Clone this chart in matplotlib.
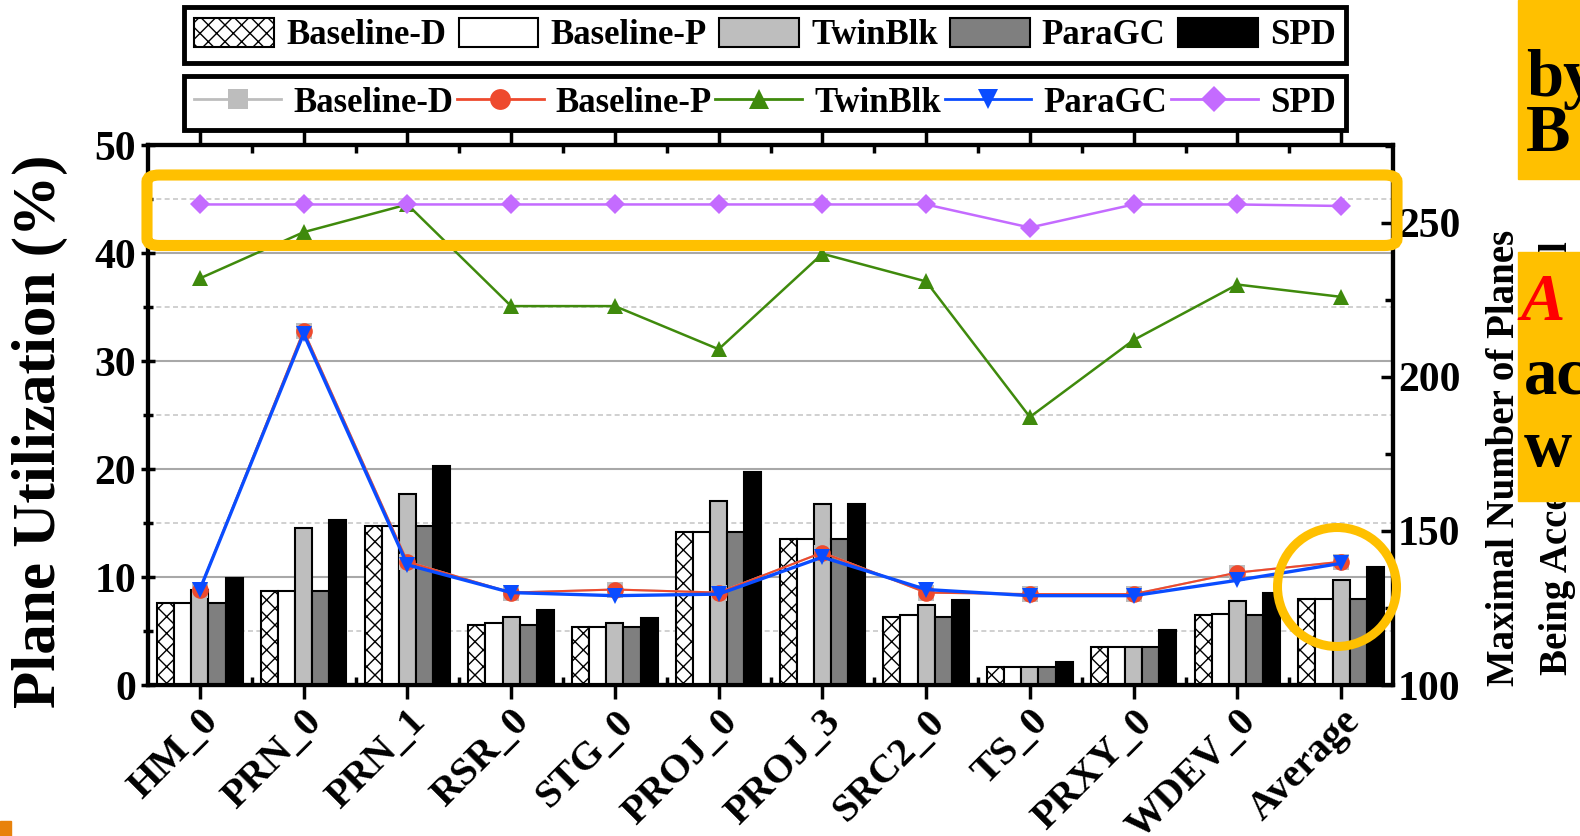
import numpy as np
import matplotlib
matplotlib.use("Agg")
import matplotlib.pyplot as plt
from matplotlib.patches import Patch, FancyBboxPatch, Ellipse, Rectangle
from matplotlib.lines import Line2D
from matplotlib.ticker import MultipleLocator

plt.rcParams['font.family'] = ['Liberation Serif', 'DejaVu Serif']
plt.rcParams['font.weight'] = 'bold'
plt.rcParams['hatch.linewidth'] = 1.0

# workloads
categories = ["HM_0", "PRN_0", "PRN_1", "RSR_0", "STG_0", "PROJ_0",
              "PROJ_3", "SRC2_0", "TS_0", "PRXY_0", "WDEV_0", "Average"]
schemes = ["Baseline-D", "Baseline-P", "TwinBlk", "ParaGC", "SPD"]

# plane utilization (%) - bars, left axis
util_bd = [7.6, 8.7, 14.7, 5.6, 5.4, 14.2, 13.5, 6.3, 1.7, 3.5, 6.5, 8.0]
util_bp = [7.6, 8.7, 14.7, 5.7, 5.4, 14.2, 13.5, 6.5, 1.7, 3.5, 6.6, 8.0]
util_twin = [8.8, 14.5, 17.7, 6.3, 5.7, 17.0, 16.8, 7.4, 1.7, 3.5, 7.8, 9.7]
util_para = [7.6, 8.7, 14.7, 5.6, 5.4, 14.2, 13.5, 6.3, 1.7, 3.5, 6.5, 8.0]
util_spd = [9.9, 15.3, 20.3, 6.9, 6.2, 19.7, 16.8, 7.9, 2.1, 5.1, 8.5, 10.9]

# maximal number of planes accessed in parallel - lines, right axis
par_bd = [131, 215, 140, 130, 131, 130, 143, 130, 129.5, 129.5, 136.5, 140]
par_bp = [131, 215, 140, 130, 131, 130, 143, 130, 129.5, 129.5, 136.5, 140]
par_twin = [232, 247, 256, 223, 223, 209, 240, 231, 187, 212, 230, 226]
par_para = [131, 214, 139, 130, 129, 129.5, 141.5, 131, 129, 129, 134, 139.5]
par_spd = [256, 256, 256, 256, 256, 256, 256, 256, 248.5, 256, 256, 255.5]

bar_face = ["white", "white", "#bebebe", "#7f7f7f", "black"]
bar_hatch = ["xx", None, None, None, None]
line_color = ["#bdbdbd", "#ee4a2e", "#3f8a0c", "#0a4cff", "#c46bff"]
line_marker = ["s", "o", "^", "v", "D"]
yellow = "#ffc000"

W, H = 1580, 836
fig = plt.figure(figsize=(W / 100, H / 100), dpi=100)
ax = fig.add_axes([148 / W, 1 - 685 / H, (1393 - 148) / W, (685 - 145) / H])
ax2 = ax.twinx()

x = np.arange(len(categories))
bw = 0.165
utils = [util_bd, util_bp, util_twin, util_para, util_spd]
for i, vals in enumerate(utils):
    ax.bar(x + (i - 2) * bw, vals, bw, color=bar_face[i], edgecolor="black",
           hatch=bar_hatch[i], linewidth=1.5, zorder=3)

pars = [par_bd, par_bp, par_twin, par_para, par_spd]
lws = [1.5, 1.5, 1.8, 2.4, 1.8]
for i, vals in enumerate(pars):
    ax2.plot(x, vals, color=line_color[i], marker=line_marker[i],
             markersize=12 if line_marker[i] != "D" else 10, lw=lws[i],
             markeredgewidth=0, zorder=3 + i)

ax.set_xlim(-0.5, len(categories) - 0.5)
ax.set_ylim(0, 50)
ax2.set_ylim(100, 275.3)

ax.yaxis.set_major_locator(MultipleLocator(10))
ax.yaxis.set_minor_locator(MultipleLocator(5))
ax2.yaxis.set_major_locator(MultipleLocator(50))
ax2.yaxis.set_minor_locator(MultipleLocator(25))
ax.grid(which="major", axis="y", color="#a8a8a8", lw=1.5, zorder=0)
ax.grid(which="minor", axis="y", color="#c8c8c8", lw=1.2, ls=(0, (3, 2)), zorder=0)

ax.set_xticks(x)
ax.set_xticks(x[:-1] + 0.5, minor=True)
ax.set_xticklabels(categories, rotation=45, ha="right", rotation_mode="anchor",
                   fontsize=29, fontweight="bold")
ax.tick_params(axis="x", which="major", direction="out", length=10, width=2.5,
               top=True, pad=3)
ax.tick_params(axis="x", which="minor", direction="in", length=6, width=2.5,
               top=True, bottom=True)
ax.tick_params(axis="y", which="major", direction="inout", length=10, width=2.5,
               labelsize=30)
ax.tick_params(axis="y", which="minor", direction="inout", length=7, width=2.5)
ax2.tick_params(axis="y", which="major", direction="in", length=9, width=2.5,
                labelsize=30)
ax2.tick_params(axis="y", which="minor", direction="in", length=6, width=2.5)
for t in ax.get_yticklabels() + ax2.get_yticklabels():
    t.set_fontweight("bold")

for sp in ax.spines.values():
    sp.set_linewidth(3)
for sp in ax2.spines.values():
    sp.set_linewidth(3)

ax.set_ylabel("Plane Utilization (%)", fontsize=44, fontweight="bold")
ax.yaxis.set_label_coords(-0.064, 0.47)
ax2.set_ylabel("Maximal Number of Planes\nBeing Accessed in Parallel",
               fontsize=28, fontweight="bold", linespacing=1.55)
ax2.yaxis.set_label_coords(1.075, 0.42)

# legends
bar_handles = [Patch(facecolor=bar_face[i], edgecolor="black", hatch=bar_hatch[i],
                     linewidth=1.5) for i in range(5)]
line_handles = [Line2D([0], [0], color=line_color[i], marker=line_marker[i],
                       markersize=15 if line_marker[i] != "D" else 13, lw=2,
                       markeredgewidth=0) for i in range(5)]
leg_kw = dict(ncol=5, frameon=True, fancybox=False, framealpha=1, mode="expand",
              handletextpad=0.35, columnspacing=0.3, borderpad=0.3,
              borderaxespad=0, prop={"weight": "bold", "size": 25})
leg1 = fig.legend(bar_handles, schemes, loc="center",
                  bbox_to_anchor=(184 / W, 1 - 60 / H, (1346 - 184) / W, 50 / H),
                  handlelength=2.3, handleheight=0.9, **leg_kw)
leg2 = fig.legend(line_handles, schemes, loc="center",
                  bbox_to_anchor=(184 / W, 1 - 128 / H, (1346 - 184) / W, 50 / H),
                  handlelength=2.5, **leg_kw)
for lg in (leg1, leg2):
    lg.get_frame().set_edgecolor("black")
    lg.get_frame().set_linewidth(3.5)

# slide overlays
rect = FancyBboxPatch((147 / W, 1 - 245.5 / H), (1397 - 147) / W, 70.5 / H,
                      boxstyle="round,pad=0,rounding_size=0.008",
                      transform=fig.transFigure, fill=False, edgecolor=yellow,
                      linewidth=8, zorder=10)
fig.patches.append(rect)
circ = Ellipse((1337 / W, 1 - 587 / H), 119 / W, 119 / H, transform=fig.transFigure,
               fill=False, edgecolor=yellow, linewidth=6.5, zorder=10)
fig.patches.append(circ)
fig.patches.append(Rectangle((1518 / W, 1 - 179 / H), 62 / W, 179 / H,
                             transform=fig.transFigure, color=yellow, zorder=10))
fig.patches.append(Rectangle((1518 / W, 1 - 501 / H), 62 / W, 249 / H,
                             transform=fig.transFigure, color=yellow, zorder=10))
fig.patches.append(Rectangle((0, 0), 11 / W, 15 / H, transform=fig.transFigure,
                             color="#e8820c", zorder=10))
fig.text(1526 / W, 1 - 96 / H, "by", fontsize=48, fontweight="bold", zorder=11)
fig.text(1526 / W, 1 - 151 / H, "B", fontsize=48, fontweight="bold", zorder=11)
fig.text(1520 / W, 1 - 320 / H, "A", fontsize=48, fontweight="bold", style="italic",
         color="red", zorder=11)
fig.text(1524 / W, 1 - 393 / H, "ac", fontsize=48, fontweight="bold", zorder=11)
fig.text(1524 / W, 1 - 466 / H, "w", fontsize=48, fontweight="bold", zorder=11)

fig.savefig("out.png", dpi=100)
